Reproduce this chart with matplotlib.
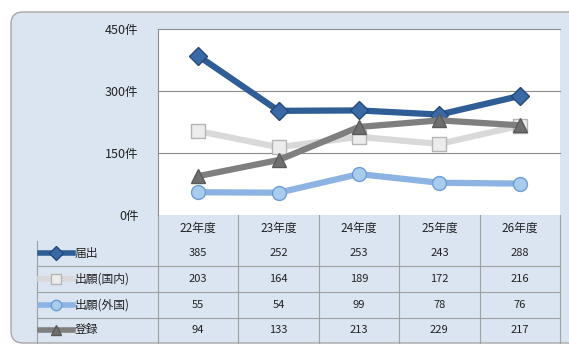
import matplotlib.pyplot as plt
from matplotlib.patches import FancyBboxPatch
from matplotlib.lines import Line2D

plt.rcParams['font.family'] = ['Noto Sans CJK JP', 'DejaVu Sans']

# data
years = ['22年度', '23年度', '24年度', '25年度', '26年度']
series_names = ['届出', '出願(国内)', '出願(外国)', '登録']
todokede = [385, 252, 253, 243, 288]
shutsugan_kokunai = [203, 164, 189, 172, 216]
shutsugan_gaikoku = [55, 54, 99, 78, 76]
touroku = [94, 133, 213, 229, 217]
y_ticks = [0, 150, 300, 450]

series = [todokede, shutsugan_kokunai, shutsugan_gaikoku, touroku]
styles = [
    dict(color='#2f5e96', marker='D', mfc='#3a6aa6', mec='#24497a', ms=9),
    dict(color='#d9d9d9', marker='s', mfc='#ececec', mec='#b5b5b5', ms=10),
    dict(color='#8db3e2', marker='o', mfc='#a9cbee', mec='#6d9dd2', ms=10),
    dict(color='#7f7f7f', marker='^', mfc='#6f6f6f', mec='#5a5a5a', ms=10),
]

W, H = 569, 344
fig = plt.figure(figsize=(W / 100, H / 100), dpi=100)

# background layer in pixel coordinates
bg = fig.add_axes([0, 0, 1, 1], zorder=0)
bg.set_xlim(0, W)
bg.set_ylim(H, 0)
bg.axis('off')
bg.add_patch(FancyBboxPatch((11, 12), 570, 331, boxstyle='round,pad=0,rounding_size=12',
                            fc='#dbe5f1', ec='#a6a6a6', lw=1.0))

# plot area
x0, x1, ytop, ybot = 158, 560, 29, 215
ax = fig.add_axes([x0 / W, 1 - ybot / H, (x1 - x0) / W, (ybot - ytop) / H], zorder=1)
ax.set_facecolor('white')
n = len(years)
xs = list(range(n))
for vals, st in zip(series, styles):
    ax.plot(xs, vals, lw=4.5, solid_capstyle='round', solid_joinstyle='round', **st)
ax.set_xlim(-0.5, n - 0.5)
ax.set_ylim(0, 450)
ax.set_yticks(y_ticks)
ax.set_yticklabels([f'{v}件' for v in y_ticks], fontsize=9, color='#222222')
ax.tick_params(axis='y', length=0, pad=14)
ax.set_xticks([])
for v in y_ticks[1:]:
    ax.axhline(v, color='#8c8c8c', lw=0.8, zorder=0, clip_on=False)
for s in ['top', 'right', 'bottom']:
    ax.spines[s].set_visible(False)
ax.spines['left'].set_color('#8c8c8c')
ax.spines['left'].set_linewidth(0.8)

# data table under the plot
col_w = (x1 - x0) / n
label_x = 37
row_y = [228, 253, 279, 305, 330]
row_lines = [241, 266, 292, 318]
grid_c = '#a0a0a0'
for i in range(n + 1):
    bg.plot([x0 + i * col_w] * 2, [ybot, 343], color=grid_c, lw=0.8)
bg.plot([label_x, label_x], [241, 343], color=grid_c, lw=0.8)
for yl in row_lines[1:]:
    bg.plot([label_x, x1], [yl, yl], color=grid_c, lw=0.8)

for i, yr in enumerate(years):
    bg.text(x0 + (i + 0.5) * col_w, row_y[0], yr, ha='center', va='center',
            fontsize=8.5, color='#222222')
for r, (name, vals, st) in enumerate(zip(series_names, series, styles)):
    y = row_y[r + 1]
    bg.add_line(Line2D([40, 73], [y, y], lw=4, color=st['color']))
    bg.add_line(Line2D([56], [y], marker=st['marker'], mfc=st['mfc'], mec=st['mec'],
                       ms=st['ms'] * 0.75, lw=0))
    bg.text(75, y, name, ha='left', va='center', fontsize=8.5, color='#222222')
    for i, v in enumerate(vals):
        bg.text(x0 + (i + 0.5) * col_w, y, str(v), ha='center', va='center',
                fontsize=8, color='#222222')

fig.savefig('out.png', dpi=100)
